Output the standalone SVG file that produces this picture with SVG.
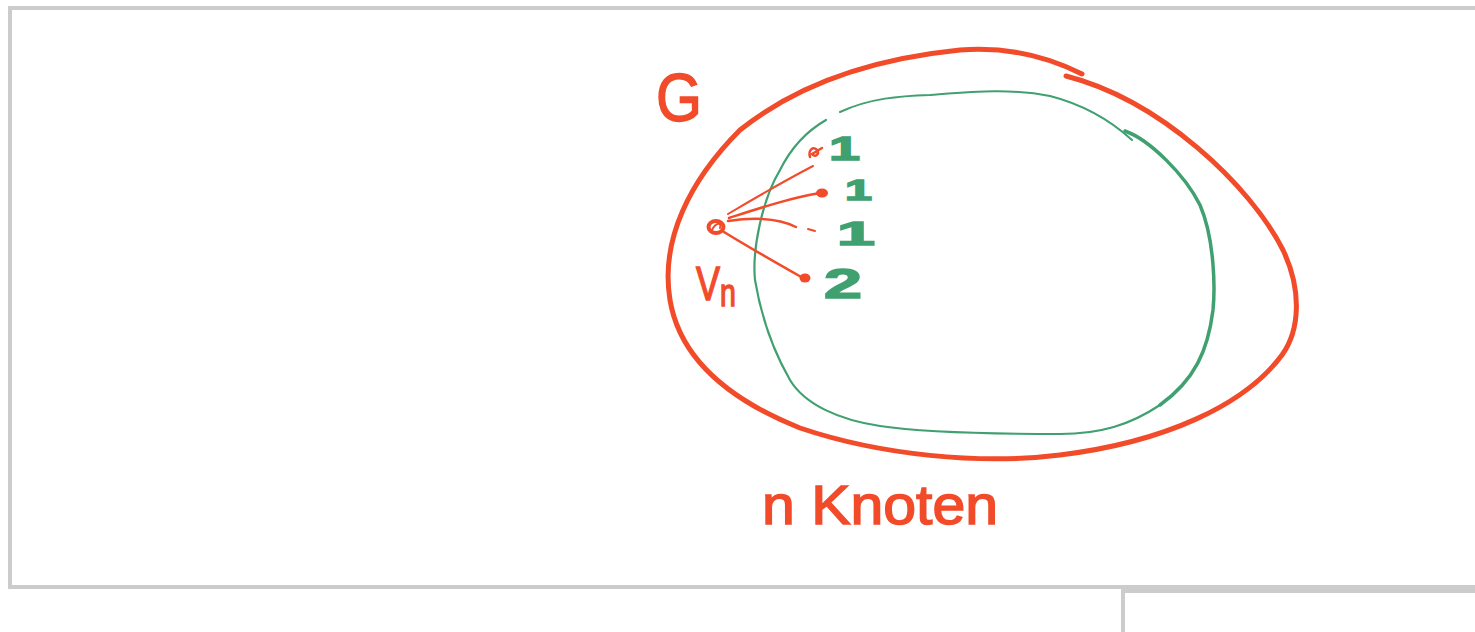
<svg xmlns="http://www.w3.org/2000/svg" width="1475" height="632" viewBox="0 0 1475 632">
<style>
.frame{fill:#cccccc}
.red{fill:none;stroke:#f24b2a;stroke-linecap:round;stroke-linejoin:round}
.green{fill:none;stroke:#40a070;stroke-linecap:round;stroke-linejoin:round}
.tr{fill:#f24b2a;font-family:"Liberation Sans",Arial,sans-serif;stroke:#f24b2a;stroke-width:1.5}
.tg{fill:#40a070;font-family:"Liberation Sans",Arial,sans-serif;stroke:#40a070;stroke-width:1.5;font-weight:bold}
.dot{fill:#f24b2a}
</style>
<rect width="1475" height="632" fill="#ffffff"/>
<g id="frame">
<rect class="frame" x="8" y="6" width="1467" height="4"/>
<rect class="frame" x="8" y="6" width="4" height="583"/>
<rect class="frame" x="8" y="585" width="1467" height="4"/>
<rect class="frame" x="1121" y="589" width="354" height="4"/>
<rect class="frame" x="1121" y="589" width="4" height="43"/>
</g>
<g id="graph-G">
<path class="red" stroke-width="5" d="M1066,76 C1160,100 1250,185 1283,250 C1302,290 1300,330 1282,355 C1245,405 1165,442 1060,455 C980,465 880,455 800,428 C730,400 680,360 670,300 C660,240 690,180 740,130 C790,90 860,60 960,50 C1010,46 1050,58 1082,74"/>
<text class="tr" x="656" y="121" font-size="68" textLength="46" lengthAdjust="spacingAndGlyphs">G</text>
<text class="tr" x="762" y="524" font-size="56" textLength="236" lengthAdjust="spacingAndGlyphs">n Knoten</text>
</g>
<g id="subgraph">
<path class="green" stroke-width="3.5" d="M1125,131 C1150,140 1185,175 1200,205 C1215,240 1215,290 1213,310 C1208,350 1195,380 1160,405"/>
<path class="green" stroke-width="2.2" d="M1160,405 C1130,425 1100,434 1060,434 C1000,434 920,432 880,426 C840,420 805,405 790,380 C770,345 760,310 755,280 C752,250 762,200 780,170 C790,150 805,132 826,120"/>
<path class="green" stroke-width="2" d="M840,112 C870,98 900,96 930,95 C970,92 1010,88 1050,96 C1085,105 1110,120 1132,140"/>
</g>
<g id="connectors">
<path class="red" stroke-width="2" d="M728,214 C760,195 790,178 813,166"/>
<path class="red" stroke-width="2.5" d="M729,218 C760,208 790,198 820,193"/>
<path class="red" stroke-width="2.5" d="M728,221 C755,217 780,219 796,227"/>
<path class="red" stroke-width="2" d="M808,229 L815,231"/>
<path class="red" stroke-width="2.5" d="M724,232 C750,248 780,265 803,278"/>
</g>
<g id="vertex-vn">
<ellipse class="red" stroke-width="4" cx="716" cy="227" rx="7.5" ry="6"/>
<path class="red" stroke-width="2" d="M712,230 C716,222 722,222 720,228"/>
<text class="tr" transform="translate(696,300) scale(0.75,1)" x="0" y="0" font-size="48">V<tspan dy="6" font-size="38">n</tspan></text>
</g>
<g id="neighbor-1">
<path class="red" stroke-width="2.5" d="M810,157 C808,150 813,146 817,150 C820,154 815,158 812,154 L822,148"/>
<text class="tg" x="829" y="160" font-size="34" textLength="31" lengthAdjust="spacingAndGlyphs">1</text>
</g>
<g id="neighbor-2">
<ellipse class="dot" cx="822" cy="193" rx="6" ry="4.5"/>
<text class="tg" x="845" y="200" font-size="30" textLength="27" lengthAdjust="spacingAndGlyphs">1</text>
</g>
<g id="neighbor-3">
<text class="tg" x="837" y="245" font-size="34" textLength="38" lengthAdjust="spacingAndGlyphs">1</text>
</g>
<g id="neighbor-4">
<ellipse class="dot" cx="805" cy="278" rx="5.5" ry="4.5"/>
<text class="tg" x="824" y="298" font-size="42" textLength="38" lengthAdjust="spacingAndGlyphs">2</text>
</g>
</svg>
